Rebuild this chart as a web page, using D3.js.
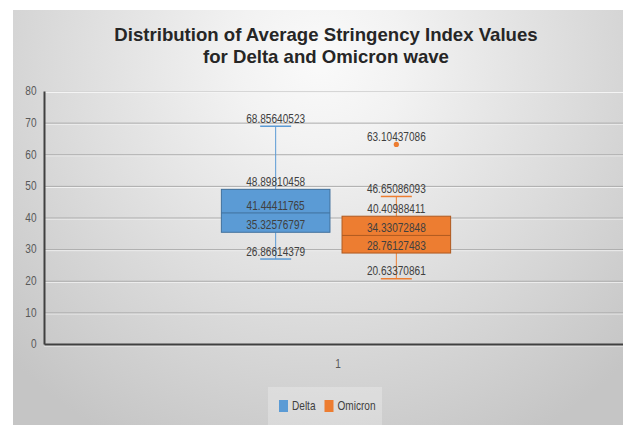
<!DOCTYPE html>
<html>
<head>
<meta charset="utf-8">
<script src="https://cdn.jsdelivr.net/npm/d3@7"></script>
<style>
  body { margin: 0; background: #fff; }
  svg { display: block; }
</style>
</head>
<body>
<div id="chart"></div>
<script>
// values
const categories = ["1"];
const seriesNames = ["Delta", "Omicron"];
const seriesColors = ["#5B9BD5", "#ED7D31"];
const seriesDark = ["#41719C", "#AE5A21"];
const mins = [26.86614379, 20.63370861];
const q1s = [35.32576797, 28.76127483];
const medians = [41.44411765, 34.33072848];
const q3s = [48.89810458, 40.40988411];
const maxs = [68.85640523, 46.65086093];
const outliers = [[], [63.10437086]];
const yTicks = [0, 10, 20, 30, 40, 50, 60, 70, 80];

const W = 623, H = 425;
const margin = { top: 91, left: 44, right: -5, bottom: 81 };
const sx = 0.84; // labels in the picture are horizontally squeezed
const font = "'Liberation Sans', Arial, sans-serif";

const svg = d3.select("#chart").append("svg")
  .attr("width", W)
  .attr("height", H);

// radial gray background
const grad = svg.append("defs").append("radialGradient")
  .attr("id", "bg")
  .attr("gradientUnits", "userSpaceOnUse")
  .attr("cx", 320).attr("cy", 60).attr("r", 430);
grad.append("stop").attr("offset", 0).attr("stop-color", "#fafafa");
grad.append("stop").attr("offset", 0.2).attr("stop-color", "#f2f2f2");
grad.append("stop").attr("offset", 1).attr("stop-color", "#c5c5c5");

svg.append("rect")
  .attr("x", 13).attr("y", 10)
  .attr("width", W - 13).attr("height", H - 10)
  .attr("fill", "url(#bg)");

// title
svg.append("text")
  .attr("x", 326)
  .attr("y", 41)
  .attr("text-anchor", "middle")
  .style("font-family", font)
  .style("font-size", "18.6px")
  .style("font-weight", "bold")
  .attr("fill", "#262626")
  .selectAll("tspan")
  .data(["Distribution of Average Stringency Index Values", "for Delta and Omicron wave"])
  .enter().append("tspan")
    .attr("x", 326)
    .attr("dy", (d, i) => i ? 22 : 0)
    .text(d => d);

// scales
const y = d3.scaleLinear()
  .domain([0, 80])
  .range([H - margin.bottom, margin.top]);

const x = d3.scaleBand()
  .domain(categories)
  .range([margin.left, W - margin.right]);

const xs = d3.scaleBand()
  .domain(seriesNames)
  .range([0, x.bandwidth()])
  .paddingInner(0.1)
  .paddingOuter(1.47);

// gridlines
const grid = svg.append("g");
grid.selectAll("line.hl")
  .data(yTicks.filter(d => d > 0))
  .enter().append("line")
    .attr("x1", margin.left).attr("x2", W)
    .attr("y1", d => y(d) + 1.5).attr("y2", d => y(d) + 1.5)
    .attr("stroke", "#f4f4f4")
    .attr("stroke-width", 1);
grid.selectAll("line.g")
  .data(yTicks.filter(d => d > 0))
  .enter().append("line")
    .attr("x1", margin.left).attr("x2", W)
    .attr("y1", d => y(d) + 0.5).attr("y2", d => y(d) + 0.5)
    .attr("stroke", d => d === 80 ? "#d6d6d6" : "#ababab")
    .attr("stroke-width", 1);

// y axis
const yAxis = svg.append("g")
  .attr("transform", "translate(" + margin.left + ",0)")
  .call(d3.axisLeft(y).tickValues(yTicks).tickSize(0).tickPadding(0).tickSizeOuter(0));
yAxis.select(".domain").attr("stroke", "#404040").attr("stroke-width", 2);
yAxis.selectAll("text")
  .attr("x", -7.5 / sx)
  .attr("transform", "scale(" + sx + ",1)")
  .attr("fill", "#595959")
  .style("font-family", font)
  .style("font-size", "12px");

// x axis
svg.append("line")
  .attr("x1", margin.left).attr("x2", W)
  .attr("y1", y(0) + 2).attr("y2", y(0) + 2)
  .attr("stroke", "#f0f0f0");
const xAxis = svg.append("g")
  .attr("transform", "translate(0," + y(0) + ")")
  .call(d3.axisBottom(x).tickSize(0).tickPadding(0).tickSizeOuter(0));
xAxis.select(".domain").attr("stroke", "#404040").attr("stroke-width", 2);
xAxis.selectAll("text")
  .attr("y", 15)
  .attr("transform", "scale(" + sx + ",1)")
  .attr("fill", "#595959")
  .style("font-family", font)
  .style("font-size", "12px");
xAxis.selectAll(".tick").attr("transform", d => "translate(" + (x(d) + x.bandwidth() / 2 + 2) + ",0)");

// boxes
const boxes = seriesNames.map((name, i) => ({
  name: name, i: i,
  min: mins[i], q1: q1s[i], med: medians[i], q3: q3s[i], max: maxs[i],
  out: outliers[i]
}));

const g = svg.append("g")
  .attr("transform", "translate(" + x(categories[0]) + ",0)");

const box = g.selectAll("g.box")
  .data(boxes)
  .enter().append("g")
  .attr("class", "box");

const cx = d => xs(d.name) + xs.bandwidth() / 2;
const capW = 31;

// whiskers
box.append("line")
  .attr("x1", cx).attr("x2", cx)
  .attr("y1", d => y(d.max)).attr("y2", d => y(d.q3))
  .attr("stroke", d => seriesColors[d.i]);
box.append("line")
  .attr("x1", cx).attr("x2", cx)
  .attr("y1", d => y(d.q1)).attr("y2", d => y(d.min))
  .attr("stroke", d => seriesColors[d.i]);
box.append("line")
  .attr("x1", d => cx(d) - capW / 2).attr("x2", d => cx(d) + capW / 2)
  .attr("y1", d => y(d.max)).attr("y2", d => y(d.max))
  .attr("stroke", d => seriesColors[d.i]).attr("stroke-width", 1.5);
box.append("line")
  .attr("x1", d => cx(d) - capW / 2).attr("x2", d => cx(d) + capW / 2)
  .attr("y1", d => y(d.min)).attr("y2", d => y(d.min))
  .attr("stroke", d => seriesColors[d.i]).attr("stroke-width", 1.5);

// box body + median
box.append("rect")
  .attr("x", d => xs(d.name))
  .attr("width", xs.bandwidth())
  .attr("y", d => y(d.q3))
  .attr("height", d => y(d.q1) - y(d.q3))
  .attr("fill", d => seriesColors[d.i])
  .attr("stroke", d => seriesDark[d.i])
  .attr("stroke-width", 1);
box.append("line")
  .attr("x1", d => xs(d.name)).attr("x2", d => xs(d.name) + xs.bandwidth())
  .attr("y1", d => y(d.med)).attr("y2", d => y(d.med))
  .attr("stroke", d => seriesDark[d.i]);

// outliers
box.selectAll("circle")
  .data(d => d.out.map(v => ({ v: v, i: d.i, name: d.name })))
  .enter().append("circle")
    .attr("cx", cx)
    .attr("cy", d => y(d.v))
    .attr("r", 2.6)
    .attr("fill", d => seriesColors[d.i]);

// data labels
const labels = [];
boxes.forEach(d => {
  [d.max, d.q3, d.med, d.q1, d.min].concat(d.out).forEach(v => labels.push({ v: v, x: cx(d) }));
});
g.selectAll("text.lbl")
  .data(labels)
  .enter().append("text")
    .attr("class", "lbl")
    .attr("text-anchor", "middle")
    .attr("transform", d => "translate(" + d.x + "," + (y(d.v) - 3.3) + ") scale(" + sx + ",1)")
    .attr("fill", "#404040")
    .style("font-family", font)
    .style("font-size", "12px")
    .text(d => String(d.v));

// legend
const legend = svg.append("g");
legend.append("rect")
  .attr("x", 268).attr("y", 387)
  .attr("width", 114).attr("height", 38)
  .attr("fill", "#ffffff").attr("opacity", 0.25);
const lx = [279, 324.5];
const li = legend.selectAll("g.li")
  .data(seriesNames)
  .enter().append("g")
  .attr("transform", (d, i) => "translate(" + lx[i] + ",400)");
li.append("rect")
  .attr("width", 9).attr("height", 12)
  .attr("fill", (d, i) => seriesColors[i]);
li.append("text")
  .attr("transform", "translate(13,10.4) scale(" + sx + ",1)")
  .attr("fill", "#404040")
  .style("font-family", font)
  .style("font-size", "12px")
  .text(d => d);
</script>
</body>
</html>
